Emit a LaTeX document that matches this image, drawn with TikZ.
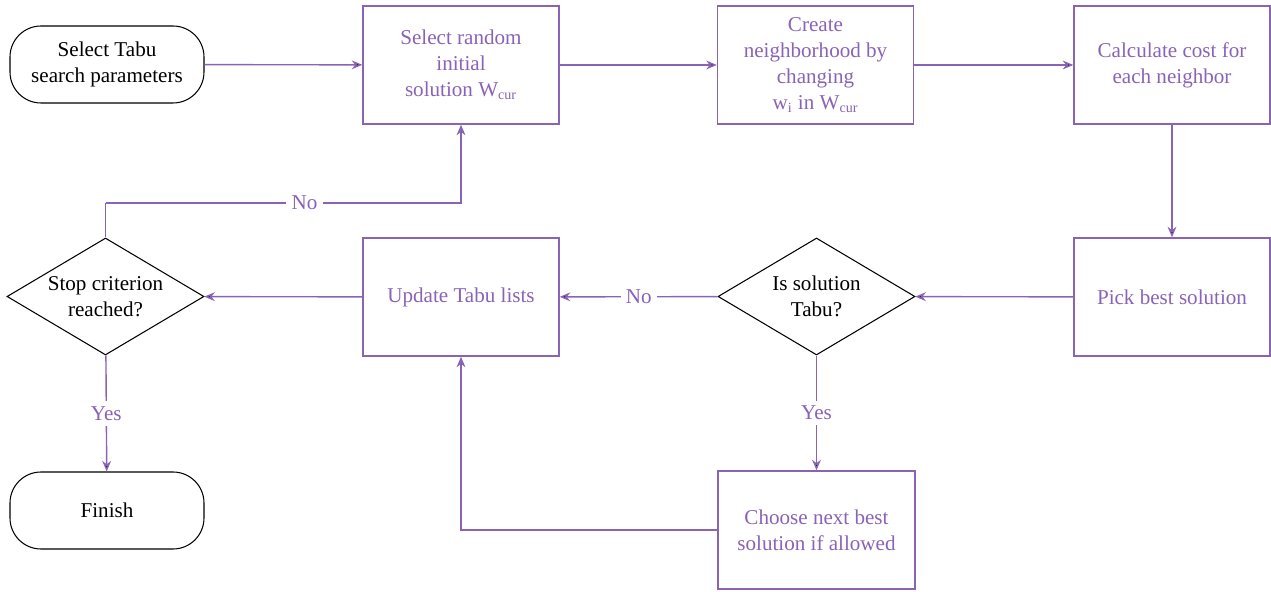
\documentclass[tikz,border=0pt]{standalone}
\usepackage{fontspec}
\setmainfont{Liberation Serif}
\usetikzlibrary{shapes.geometric,arrows.meta}
\definecolor{lila}{RGB}{137,99,181}

\begin{document}
\begin{tikzpicture}[line width=0.8pt, font=\fontsize{12}{14.8}\selectfont,
	box/.style={draw=lila,text=lila,minimum width=3.92cm,minimum height=2.36cm,align=center,inner sep=2pt},
	term/.style={draw,rectangle,rounded corners=0.62cm,minimum width=3.88cm,minimum height=1.54cm,align=center,line width=0.6pt},
	dec/.style={draw,diamond,aspect=1.68,minimum width=3.94cm,minimum height=2.34cm,align=center,inner sep=0pt,line width=0.6pt},
	flow/.style={draw=lila,-{Stealth[length=6pt,width=5pt]}},
	lbl/.style={fill=white,text=lila,inner sep=3pt}]
			\useasboundingbox (0,0) rectangle (25.42,-11.84);
			
			\node[term] (1) at (2.14,-1.29) {Select Tabu\\search parameters};
			\node[box] (2) at (9.22,-1.30) {Select random\\initial\\solution W\textsubscript{cur}};
			\node[box] (3) at (16.31,-1.30) {Create\\neighborhood by\\changing\\w\textsubscript{i} in W\textsubscript{cur}};
			\node[box] (4) at (23.44,-1.30) {Calculate cost for\\each neighbor};
			\node[box] (5) at (23.44,-5.94) {Pick best solution};
			\node[dec] (6) at (16.33,-5.93) {Is solution\\Tabu?};
			\node[box] (7) at (9.22,-5.94) {Update Tabu lists};
			\node[dec] (8) at (2.11,-5.93) {Stop criterion\\reached?};
			\node[term] (9) at (2.14,-10.21) {Finish};
			\node[box,minimum width=3.94cm] (10) at (16.33,-10.60) {Choose next best\\solution if allowed};
			
			\coordinate (88) at (2.11,-4.06);
			
			\path[flow] (1) edge (2);
			\path[flow] (2) edge (3);
			\path[flow] (3) edge (4);
			\path[flow] (4) edge (5);
			\path[flow] (5) edge (6);
			
			\path[flow] (6) edge node[lbl] {No} (7);
			\path[flow] (6) edge node[lbl] {Yes} (10);
			\path[flow] (7) edge (8);
			\path[flow] (8) edge node[lbl] {Yes} (9);
			
			\draw[draw=lila] (8) -- (88);
			\draw[flow] (88) -| node[lbl,pos=0.28] {No} (2);
			\draw[flow] (10) -| (7);
		\end{tikzpicture}
\end{document}
